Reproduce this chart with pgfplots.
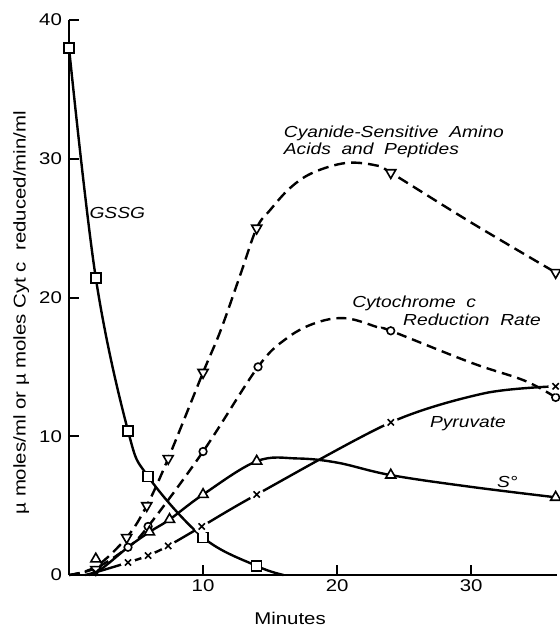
\documentclass[border=0pt]{standalone}
\usepackage{fontspec}
\setmainfont{Liberation Sans}[FakeStretch=1.2]
\usepackage{pgfplots}
\pgfplotsset{compat=1.18}

\begin{document}
\begin{tikzpicture}
\useasboundingbox (-34.5pt,-25.5pt) rectangle (245.5pt,287.5pt);
\begin{axis}[
  scale only axis,
  width=244pt, height=277.5pt,
  xmin=0, xmax=36.4, ymin=0, ymax=40,
  axis x line*=bottom, axis y line*=left,
  axis line style={line width=1.1pt},
  x axis line style={-}, y axis line style={-},
  xtick={10,20,30}, ytick={0,10,20,30,40},
  tick align=inside, major tick length=5pt,
  tick style={line width=1pt, black},
  /pgf/number format/assume math mode=true,
  tick label style={font=\fontsize{8.5}{10}\selectfont},
  xticklabel style={yshift=1pt},
  label style={font=\fontsize{8.5}{10}\selectfont},
  xlabel={Minutes},
  xlabel style={at={(axis description cs:0.453,-0.0775)}, anchor=center},
  ylabel={\textmu\ moles/ml or \textmu\ moles Cyt c\ \ reduced/min/ml},
  ylabel style={at={(axis description cs:-0.098,0.4725)}, anchor=center},
  clip=false,
  every axis plot/.append style={line width=1.2pt, black},
]
% GSSG
\addplot[smooth, tension=0.6] coordinates {(0,38) (2,21.4) (4.4,10.4) (5.9,7.1) (10,2.7) (14,0.65) (16,0)};
\addplot[only marks, mark=square*, mark size=2.5pt, mark options={fill=white, line width=0.8pt}]
  coordinates {(0,38) (2,21.4) (4.4,10.4) (5.9,7.1) (10,2.7) (14,0.65)};
% Cyanide-sensitive amino acids and peptides
\addplot[smooth, tension=0.6, dash pattern=on 5.5pt off 3pt] coordinates {(0,0) (2,0.6) (4.3,2.7) (5.8,5) (7.4,8.4) (10,14.6) (11.3,17.6) (12.8,21.7) (14,25) (15,26.3) (16.5,27.9) (18.2,29.0) (20.7,29.7) (23,29.5) (24,29) (30,25.4) (36.3,21.8)};
\addplot[only marks, mark=triangle*, mark size=2.9pt, mark options={rotate=180, fill=white, line width=0.8pt}]
  coordinates {(2,0.4) (4.3,2.7) (5.8,5) (7.4,8.4) (10,14.6) (14,25) (24,29) (36.3,21.8)};
% Cytochrome c reduction rate
\addplot[smooth, tension=0.6, dash pattern=on 5pt off 3pt] coordinates {(0,0) (2,0.5) (4.4,2.0) (5.9,3.5) (10,8.9) (14.1,15.0) (16.3,17.1) (18.5,18.2) (20.7,18.5) (23.2,17.8) (24,17.6) (30,15.3) (34,14.0) (36.3,12.8)};
\addplot[only marks, mark=*, mark size=1.9pt, mark options={fill=white, line width=0.8pt}]
  coordinates {(4.4,2.0) (5.9,3.5) (10,8.9) (14.1,15.0) (24,17.6) (36.3,12.8)};
% S
\addplot[smooth, tension=0.6] coordinates {(1.5,0) (2.5,0.5) (4.4,2.0) (6,3.1) (7.5,4.0) (10,5.8) (14,8.2) (17,8.4) (20,8.1) (24,7.2) (30,6.35) (36.3,5.6)};
\addplot[only marks, mark=triangle*, mark size=2.9pt, mark options={fill=white, line width=0.8pt}]
  coordinates {(2,1.15) (6,3.1) (7.5,4.0) (10,5.8) (14,8.2) (24,7.2) (36.3,5.6)};
% Pyruvate
\addplot[smooth, tension=0.5] coordinates {(1.2,0) (2,0.2) (4.4,0.9) (5.9,1.4) (7.4,2.1) (9.9,3.5) (14,5.8) (24,11) (31,13.1) (36.3,13.6)};
\addplot[only marks, mark=*, mark size=3pt, mark options={draw=white, fill=white}]
  coordinates {(4.4,0.9) (5.9,1.4) (7.4,2.1) (9.9,3.5) (14,5.8) (24,11) (36.3,13.6)};
\addplot[only marks, mark=x, mark size=2.2pt, mark options={line width=0.8pt}]
  coordinates {(2,0.2) (4.4,0.9) (5.9,1.4) (7.4,2.1) (9.9,3.5) (14,5.8) (24,11) (36.3,13.6)};
% curve labels
\begin{scope}[every node/.style={font=\fontsize{8}{9.5}\selectfont\itshape, inner sep=0pt}]
\node at (axis cs:3.6,26.1) {GSSG};
\node[anchor=west] at (axis cs:16,31.8) {Cyanide-Sensitive\ \ Amino};
\node[anchor=west] at (axis cs:16,30.6) {Acids\ \ and\ \ Peptides};
\node[anchor=west] at (axis cs:21.1,19.6) {Cytochrome\ \ c};
\node[anchor=west] at (axis cs:24.9,18.4) {Reduction\ \ Rate};
\node[anchor=west] at (axis cs:26.9,10.9) {Pyruvate};
\node at (axis cs:32.7,6.7) {S\textdegree};
\end{scope}
\end{axis}
\end{tikzpicture}
\end{document}
